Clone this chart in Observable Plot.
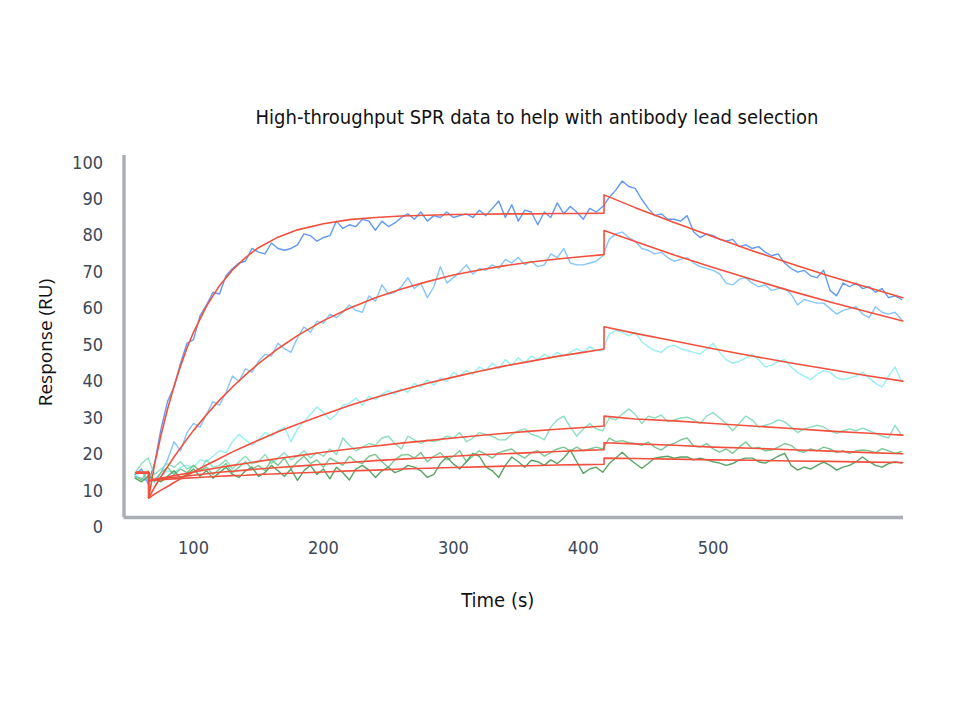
<!DOCTYPE html>
<html><head><meta charset="utf-8">
<script src="https://cdn.jsdelivr.net/npm/d3@7"></script>
<script src="https://cdn.jsdelivr.net/npm/@observablehq/plot@0.6"></script>
<style>
body{margin:0;background:#fff;}
#wrap{position:relative;width:980px;height:720px;overflow:hidden;}
#title{position:absolute;left:97px;width:880px;top:103px;text-align:center;font-family:"Liberation Sans Narrow","DejaVu Sans Condensed",Roboto,sans-serif;font-size:20px;line-height:28px;color:#111;white-space:nowrap;}
#chart{position:absolute;left:0;top:135px;}
</style></head><body>
<div id="wrap"><div id="title">High-throughput SPR data to help with antibody lead selection</div><div id="chart"></div></div>
<script>
// ---- axes ----
const xDomain = [46.5, 646.5];
const yDomain = [2.7, 102];
const xTicks = [100, 200, 300, 400, 500];
const yTicks = [0, 10, 20, 30, 40, 50, 60, 70, 80, 90, 100];

// ---- measured sensorgrams (sampled every 5 s from t = 55 s) ----
const sampleStart = 55, sampleStep = 5;
const s1 = [14.5,16.0,12.0,17.5,27.0,34.5,38.5,45.0,50.5,51.5,
58.0,61.0,64.5,64.0,69.0,71.0,72.5,73.0,76.5,75.5,
75.0,78.0,76.5,76.0,76.5,77.5,80.5,80.0,78.5,79.5,
80.0,84.0,82.0,83.0,82.5,84.5,84.0,81.5,84.0,82.5,
83.5,85.0,86.0,84.5,86.5,84.0,85.5,85.0,86.5,85.0,
85.5,86.0,85.0,87.0,85.5,87.5,89.5,85.0,88.5,84.0,
87.0,86.5,83.0,86.5,85.0,89.0,86.0,88.0,86.5,84.5,
87.5,86.5,88.0,90.5,92.5,95.0,93.5,93.0,90.0,87.5,
85.5,86.0,84.5,84.5,84.0,85.5,81.0,79.5,80.5,80.0,
79.0,78.5,79.0,77.0,77.5,76.5,77.0,75.5,74.5,75.0,
72.5,71.0,70.0,70.5,69.0,68.5,70.5,65.0,63.5,67.0,
66.0,67.0,65.5,66.0,64.5,65.5,63.0,63.5,62.5];
const s2 = [14.0,13.5,12.5,13.0,15.0,18.5,23.5,21.0,26.0,28.5,
27.5,31.0,34.5,33.5,37.0,41.5,40.0,43.5,42.5,45.5,
47.5,47.0,50.5,49.0,48.0,52.0,55.0,53.5,56.5,56.0,
58.5,57.5,59.0,61.0,59.5,59.0,63.5,62.0,66.5,64.0,
64.5,66.0,68.5,65.5,67.0,63.0,66.0,71.5,67.0,68.5,
70.0,72.0,69.5,71.0,70.5,72.0,71.0,73.5,72.5,74.0,
72.0,73.0,71.5,72.0,75.0,74.0,76.5,72.5,72.0,72.0,
72.5,73.0,74.5,79.0,80.5,81.0,79.5,78.5,76.5,76.0,
75.0,75.5,74.0,73.0,73.5,74.0,72.5,71.5,71.0,70.5,
69.5,67.0,66.5,68.0,68.5,67.0,66.0,66.5,65.0,65.5,
65.5,64.0,61.0,62.5,62.0,61.5,61.5,60.0,58.5,59.5,
60.0,60.5,58.5,57.5,60.5,59.0,58.5,59.0,57.0];
const s3 = [14.0,15.5,13.0,12.5,14.0,15.5,15.0,16.5,17.0,16.5,
18.5,18.0,19.5,21.0,20.5,23.5,25.5,24.0,22.5,24.0,
26.0,25.0,26.5,27.5,23.5,27.0,29.0,31.0,33.0,31.5,
29.5,31.0,33.5,34.0,35.5,33.5,36.0,35.0,36.5,37.5,
36.5,38.0,37.0,39.5,38.5,40.5,39.0,41.0,40.0,42.5,
41.5,43.0,42.0,44.0,43.0,45.0,43.5,46.0,44.5,46.5,
45.0,47.0,46.0,47.5,46.5,48.0,47.0,48.0,49.0,48.0,
49.5,48.5,48.5,53.0,54.0,53.5,52.5,53.5,51.0,49.5,
48.5,48.0,49.5,50.0,49.0,48.5,48.0,47.5,49.0,50.5,
48.0,46.0,45.0,45.5,46.5,47.5,46.0,44.0,44.5,45.5,
46.0,44.0,42.5,41.5,40.5,42.0,43.0,42.5,41.0,40.5,
41.0,41.5,42.5,41.0,39.5,38.5,41.5,44.0,40.0];
const s4 = [15.0,17.5,19.0,14.5,16.0,17.5,16.5,18.0,16.0,17.0,
15.5,18.5,16.5,17.0,18.5,16.0,18.0,19.5,17.5,18.0,
20.0,17.5,19.0,20.5,18.5,19.5,21.0,19.0,20.5,19.5,
21.5,20.0,24.5,22.5,21.0,22.0,23.0,22.5,24.5,25.0,
23.0,21.5,25.0,24.0,23.0,24.0,23.5,24.0,25.0,24.5,
26.0,23.5,24.5,26.0,25.5,25.0,24.0,24.0,25.5,26.5,
27.0,25.5,25.0,24.0,27.5,29.5,30.5,27.5,25.0,27.0,
28.5,27.0,26.5,30.0,29.5,31.0,32.5,31.0,28.5,30.5,
30.0,30.8,29.0,29.5,30.0,30.2,29.5,28.5,30.5,31.5,
30.0,28.5,26.5,28.5,30.5,29.5,27.5,28.0,28.5,29.5,
29.0,27.5,26.0,27.0,27.5,28.0,27.5,26.5,25.8,26.5,
27.0,26.5,27.2,26.5,25.8,25.0,24.5,28.0,25.3];
const s5 = [14.0,13.0,15.5,12.5,15.0,16.5,14.5,16.0,15.0,17.0,
15.5,16.5,14.5,16.0,17.5,15.0,16.5,18.0,16.0,17.0,
15.5,18.5,17.0,19.0,16.0,18.0,19.5,17.5,18.5,16.5,
19.0,18.0,17.0,19.5,18.0,17.5,19.5,20.0,18.0,16.5,
18.5,19.8,20.0,19.0,20.5,18.0,19.5,20.5,18.5,19.5,
21.0,18.0,19.5,21.0,20.0,19.0,20.5,21.0,21.5,20.0,
19.0,20.5,21.0,19.5,20.5,21.5,22.0,21.0,22.0,21.0,
21.5,22.0,21.5,24.5,23.5,23.8,23.2,23.0,22.5,23.4,
22.0,21.2,22.5,23.0,24.0,24.5,22.3,22.0,23.0,21.5,
20.6,21.5,20.3,22.0,23.4,21.6,22.0,21.0,21.2,22.0,
23.0,22.5,21.0,20.6,21.5,21.0,22.0,21.5,20.5,21.0,
20.3,21.0,21.2,21.0,20.5,21.6,21.0,20.3,20.8];
const s6 = [13.5,12.5,14.0,13.0,12.5,14.0,15.5,13.5,14.5,16.0,
14.0,15.5,13.5,15.0,16.5,14.5,13.7,15.5,16.5,14.0,
15.0,17.0,15.5,14.0,16.0,12.9,15.5,17.0,14.5,16.0,
13.3,16.5,15.0,13.0,16.0,17.0,15.7,13.7,15.5,16.5,
15.0,15.7,17.0,16.5,15.5,13.7,14.5,17.5,19.3,17.4,
16.0,18.0,20.3,19.5,16.6,15.5,13.7,17.0,19.3,18.0,
16.5,18.4,18.0,17.0,18.5,17.5,19.0,21.2,18.0,14.8,
16.0,16.5,15.1,17.5,19.0,20.6,18.9,17.5,16.2,17.5,
19.0,19.3,19.5,19.0,19.3,19.3,18.5,19.0,18.5,18.0,
17.6,17.0,17.5,18.5,19.0,19.0,18.0,17.6,18.5,19.5,
20.3,17.0,15.7,16.5,16.0,17.0,17.9,17.0,15.7,16.5,
17.0,18.0,19.3,18.0,17.0,16.5,17.5,18.0,17.6];
const seriesColors = ["#5a93f4", "#80c3fa", "#90eff2", "#86dcb8", "#74c48c", "#4f9e5c"];

// ---- fitted curves ----
const fitTime = [56,65.5,65.5,70,75,80,85,90,95,100,110,120,130,140,150,165,180,200,220,240,260,280,300,320,340,360,380,400,416,416,440,470,500,530,560,590,620,646];
const f1 = [15,15,8,17.2,25.3,32.4,38.7,44.2,49.2,53.5,60.7,66.3,70.6,74.0,76.7,79.6,81.6,83.3,84.4,85.0,85.4,85.6,85.8,85.9,86.0,86.0,86.1,86.1,86.2,91.2,87.7,83.6,79.7,75.9,72.3,68.9,65.7,63.0];
const f2 = [15,15,8,11.0,13.9,16.6,19.3,21.8,24.2,26.6,30.9,34.9,38.5,41.8,44.9,49.0,52.6,56.7,60.1,63.0,65.4,67.4,69.2,70.6,71.8,72.8,73.6,74.3,74.8,81.4,78.4,74.7,71.3,68.0,64.8,61.8,59.0,56.6];
const f3 = [15,15,8,9.1,10.2,11.2,12.3,13.3,14.3,15.2,17.1,18.9,20.7,22.3,23.9,26.2,28.3,30.9,33.4,35.6,37.6,39.5,41.2,42.8,44.3,45.6,46.9,48.0,48.9,55.0,53.2,51.1,49.0,47.0,45.1,43.3,41.5,40.1];
const f4 = [15,15,12.8,13.2,13.5,13.8,14.2,14.5,14.8,15.2,15.8,16.4,17.0,17.5,18.1,18.9,19.6,20.6,21.5,22.3,23.1,23.8,24.5,25.2,25.8,26.4,26.9,27.4,27.8,30.5,29.7,29.2,28.5,27.8,27.1,26.4,25.8,25.3];
const f5 = [15,15,12.8,13.0,13.3,13.5,13.7,13.9,14.1,14.3,14.7,15.1,15.4,15.7,16.0,16.4,16.8,17.3,17.8,18.3,18.7,19.1,19.5,19.9,20.2,20.5,20.8,21.1,21.3,23.2,22.9,22.5,22.0,21.7,21.3,20.9,20.5,20.2];
const f6 = [15,15,12.8,12.9,13.0,13.2,13.3,13.4,13.5,13.6,13.8,14.0,14.2,14.3,14.5,14.7,14.9,15.2,15.5,15.7,16.0,16.2,16.4,16.6,16.8,16.9,17.1,17.2,17.3,19.0,18.9,18.7,18.5,18.4,18.2,18.1,17.9,17.8];
const fitColor = "#f2503e";

const labels = {title: "High-throughput SPR data to help with antibody lead selection", x: "Time (s)", y: "Response (RU)"};

// ---- build tables ----
const measured = [s1, s2, s3, s4, s5, s6].map((arr, k) =>
  arr.map((v, i) => ({t: sampleStart + i * sampleStep, v, k})));
const fits = [f1, f2, f3, f4, f5, f6].map((arr, k) =>
  arr.map((v, i) => ({t: fitTime[i], v, k})));

const tickFont = '"Liberation Sans Narrow","DejaVu Sans Condensed",Roboto,sans-serif';
const marks = [
  Plot.axisY({ticks: yTicks, tickSize: 0, tickPadding: 21, label: null, fontSize: 18, fill: "#3c4855"}),
  Plot.axisX({ticks: xTicks, tickSize: 0, tickPadding: 24, label: null, fontSize: 18, fill: "#3c4855"}),
  Plot.ruleX([xDomain[0]], {y1: yDomain[0], y2: yDomain[1], stroke: "#a9afb4", strokeWidth: 3.5}),
  Plot.ruleY([yDomain[0]], {x1: xDomain[0], x2: xDomain[1], stroke: "#a9afb4", strokeWidth: 3.5})
];
measured.forEach((rows, k) => marks.push(
  Plot.line(rows, {x: "t", y: "v", stroke: seriesColors[k], strokeWidth: 1.4, strokeOpacity: 0.95})));
fits.forEach(rows => marks.push(
  Plot.line(rows, {x: "t", y: "v", stroke: fitColor, strokeWidth: 1.6})));
marks.push(
  Plot.text([labels.x], {frameAnchor: "bottom", dy: 89, dx: -16, fontSize: 20, fill: "#111", fontFamily: tickFont}),
  Plot.text([labels.y], {frameAnchor: "left", textAnchor: "middle", rotate: -90, dx: -78, dy: 6, fontSize: 19, fill: "#111", fontFamily: '"Open Sans",sans-serif'})
);

const chart = Plot.plot({
  width: 980, height: 585,
  marginLeft: 123.5, marginRight: 77, marginTop: 20, marginBottom: 203,
  x: {domain: xDomain},
  y: {domain: yDomain},
  style: {fontFamily: tickFont, background: "white", overflow: "visible"},
  marks
});
document.getElementById("chart").appendChild(chart);
</script>
</body></html>
